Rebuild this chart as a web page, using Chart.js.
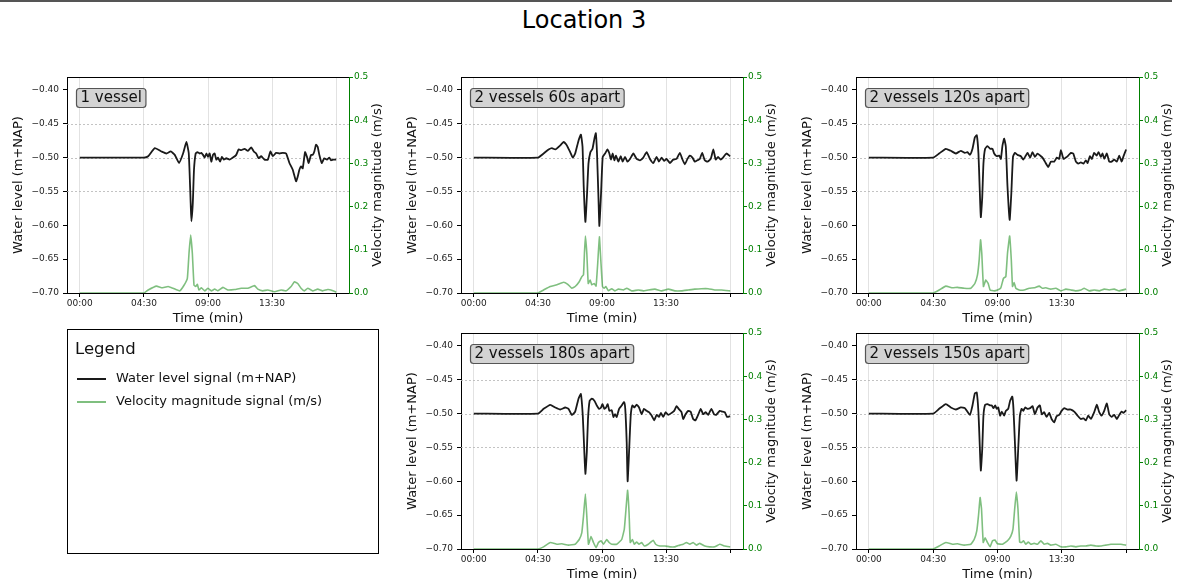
<!DOCTYPE html>
<html>
<head>
<meta charset="utf-8">
<title>Location 3</title>
<script src="https://cdn.jsdelivr.net/npm/chart.js@4.4.1/dist/chart.umd.min.js"></script>
<style>
  body { margin: 0; background: #fff; font-family: "DejaVu Sans", sans-serif; }
  #page { position: relative; width: 1181px; height: 585px; overflow: hidden; }
  #topRule { position: absolute; left: 0; top: 0; width: 1172px; border-top: 2px solid #555; }
  #title { position: absolute; left: 0; top: 6px; width: 1168px; text-align: center; font-size: 24px; color: #000; }
  canvas { position: absolute; }
  #p1 { left: 5px; top: 67px; }
  #p2 { left: 399px; top: 67px; }
  #p3 { left: 794px; top: 67px; }
  #p4 { left: 399px; top: 323px; }
  #p5 { left: 794px; top: 323px; }
  #legendBox { position: absolute; left: 67px; top: 329px; width: 312px; height: 225px; border: 1px solid #000; box-sizing: border-box; }
  #legendTitle { position: absolute; left: 7px; top: 9px; font-size: 16.5px; color: #111; }
  .entry { position: absolute; left: 9px; height: 16px; }
  .entry .swatch { position: absolute; left: 0; top: 7px; width: 29px; height: 0; }
  .entry .txt { position: absolute; left: 39px; top: -1px; font-size: 13px; color: #111; white-space: nowrap; }
</style>
</head>
<body>
<div id="page">
  <div id="topRule"></div>
  <div id="title">Location 3</div>
  <canvas id="p1" width="386" height="266"></canvas>
  <canvas id="p2" width="386" height="266"></canvas>
  <canvas id="p3" width="387" height="266"></canvas>
  <canvas id="p4" width="386" height="266"></canvas>
  <canvas id="p5" width="387" height="266"></canvas>
  <div id="legendBox"><div id="legendTitle">Legend</div></div>
</div>
<script>
// axis ticks and labels
const xTickSeconds = [0, 270, 540, 810, 1080];
const xTickLabels = ['00:00', '04:30', '09:00', '13:30', ''];
const levelTicks = [-0.70, -0.65, -0.60, -0.55, -0.50, -0.45, -0.40];
const velTicks = [0, 0.1, 0.2, 0.3, 0.4, 0.5];
const refLevels = [-0.45, -0.50, -0.55];

const captions = ['1 vessel', '2 vessels 60s apart', '2 vessels 120s apart', '2 vessels 180s apart', '2 vessels 150s apart'];
const legendLabels = ['Water level signal (m+NAP)', 'Velocity magnitude signal (m/s)'];

// ── 1 vessel ──
const p1LevelTime = [
  0, 270, 288, 316, 344, 365, 383, 400, 418, 435,
  449, 459, 467, 470, 476, 481, 488, 495, 505, 512,
  519, 526, 533, 540, 547, 554, 561, 568, 575, 582,
  591, 599, 607, 617, 631, 645, 659, 669, 680, 694,
  708, 722, 733, 743, 753, 764, 778, 792, 803, 813,
  827, 841, 855, 869, 883, 897, 911, 918, 925, 932,
  939, 949, 957, 964, 974, 981, 988, 995, 1002, 1009,
  1019, 1030, 1041, 1051, 1058, 1068, 1080];
const p1Level = [
  -0.500, -0.500, -0.498, -0.486, -0.491, -0.494, -0.491, -0.496, -0.508, -0.494,
  -0.477, -0.494, -0.567, -0.594, -0.567, -0.518, -0.494, -0.492, -0.494, -0.493,
  -0.496, -0.500, -0.494, -0.499, -0.494, -0.506, -0.496, -0.494, -0.503, -0.500,
  -0.506, -0.499, -0.503, -0.501, -0.503, -0.500, -0.496, -0.488, -0.489, -0.487,
  -0.490, -0.485, -0.491, -0.494, -0.501, -0.498, -0.503, -0.503, -0.491, -0.498,
  -0.493, -0.494, -0.493, -0.494, -0.508, -0.518, -0.535, -0.528, -0.518, -0.513,
  -0.516, -0.492, -0.499, -0.508, -0.496, -0.496, -0.491, -0.481, -0.484, -0.496,
  -0.508, -0.501, -0.503, -0.500, -0.504, -0.503, -0.503];
const p1VelTime = [
  0, 270, 288, 323, 344, 372, 393, 421, 439, 453, 460, 467,
  474, 481, 488, 495, 502, 512, 526, 540, 554, 568, 582, 603,
  624, 652, 680, 708, 736, 750, 771, 792, 820, 848, 869, 890,
  904, 918, 932, 946, 960, 981, 1002, 1023, 1044, 1058, 1080];
const p1Vel = [
  0, 0, 0.007, 0.016, 0.012, 0.015, 0.011, 0.005, 0.018, 0.034, 0.092, 0.134,
  0.092, 0.018, 0.015, 0.020, 0.007, 0.012, 0.005, 0.011, 0.005, 0.009, 0.005, 0.013,
  0.007, 0.008, 0.011, 0.011, 0.017, 0.009, 0.005, 0.007, 0.003, 0.007, 0.005, 0.015,
  0.026, 0.022, 0.011, 0.005, 0.011, 0.005, 0.009, 0.005, 0.008, 0.007, 0.002];

// ── 2 vessels 60s apart ──
const p2LevelTime = [
  0, 270, 294, 315, 329, 343, 364, 378, 392, 406,
  417, 427, 441, 451, 458, 463, 470, 477, 483, 491,
  500, 508, 514, 519, 525, 529, 536, 543, 553, 563,
  571, 578, 585, 592, 599, 609, 619, 627, 637, 647,
  658, 672, 686, 700, 714, 728, 742, 756, 770, 780,
  791, 802, 812, 826, 840, 854, 868, 878, 889, 900,
  910, 921, 931, 942, 952, 962, 973, 984, 998, 1009,
  1019, 1029, 1040, 1050, 1064, 1080];
const p2Level = [
  -0.500, -0.500, -0.494, -0.488, -0.486, -0.488, -0.482, -0.477, -0.482, -0.492,
  -0.500, -0.494, -0.475, -0.466, -0.484, -0.543, -0.595, -0.553, -0.509, -0.492,
  -0.487, -0.472, -0.464, -0.494, -0.558, -0.601, -0.553, -0.499, -0.494, -0.488,
  -0.494, -0.503, -0.494, -0.504, -0.497, -0.506, -0.498, -0.506, -0.499, -0.506,
  -0.502, -0.494, -0.502, -0.504, -0.500, -0.492, -0.502, -0.508, -0.499, -0.506,
  -0.500, -0.505, -0.502, -0.508, -0.503, -0.502, -0.493, -0.502, -0.510, -0.502,
  -0.497, -0.500, -0.506, -0.504, -0.502, -0.493, -0.504, -0.506, -0.502, -0.488,
  -0.503, -0.499, -0.503, -0.500, -0.494, -0.498];
const p2VelTime = [
  0, 270, 294, 322, 350, 378, 396, 413, 427, 444,
  455, 462, 466, 470, 476, 482, 490, 497, 507, 515,
  522, 529, 535, 542, 549, 556, 567, 581, 595, 609,
  630, 644, 665, 693, 714, 735, 763, 791, 819, 847,
  875, 903, 931, 959, 987, 1015, 1043, 1080];
const p2Vel = [
  0, 0, 0.007, 0.015, 0.019, 0.025, 0.020, 0.011, 0.015, 0.026,
  0.038, 0.042, 0.092, 0.132, 0.092, 0.022, 0.030, 0.019, 0.022, 0.016,
  0.069, 0.130, 0.076, 0.015, 0.011, 0.015, 0.005, 0.010, 0.005, 0.009,
  0.007, 0.011, 0.005, 0.007, 0.005, 0.007, 0.009, 0.005, 0.009, 0.005,
  0.005, 0.007, 0.009, 0.010, 0.010, 0.007, 0.007, 0.005];

// ── 2 vessels 120s apart ──
const p3LevelTime = [
  0, 270, 295, 323, 344, 365, 386, 403, 414, 424,
  435, 445, 453, 460, 465, 470, 476, 481, 488, 498,
  509, 519, 526, 537, 547, 554, 561, 568, 575, 582,
  591, 598, 605, 613, 624, 638, 648, 659, 666, 677,
  687, 697, 708, 719, 729, 739, 753, 764, 778, 789,
  799, 806, 817, 827, 837, 848, 858, 869, 879, 890,
  901, 911, 918, 928, 936, 946, 956, 964, 974, 981,
  988, 999, 1009, 1019, 1030, 1041, 1051, 1061, 1068, 1080];
const p3Level = [
  -0.500, -0.500, -0.494, -0.487, -0.490, -0.494, -0.490, -0.493, -0.492, -0.496,
  -0.487, -0.470, -0.467, -0.494, -0.543, -0.588, -0.558, -0.509, -0.487, -0.483,
  -0.487, -0.487, -0.494, -0.498, -0.497, -0.502, -0.482, -0.472, -0.484, -0.543,
  -0.592, -0.553, -0.499, -0.493, -0.496, -0.498, -0.503, -0.497, -0.493, -0.500,
  -0.492, -0.499, -0.494, -0.497, -0.500, -0.506, -0.514, -0.506, -0.506, -0.500,
  -0.502, -0.489, -0.502, -0.500, -0.497, -0.493, -0.494, -0.506, -0.509, -0.507,
  -0.509, -0.504, -0.508, -0.498, -0.502, -0.493, -0.497, -0.492, -0.499, -0.494,
  -0.502, -0.494, -0.506, -0.506, -0.503, -0.506, -0.497, -0.506, -0.499, -0.488];
const p3VelTime = [
  0, 270, 295, 323, 351, 372, 400, 428, 445, 456,
  463, 469, 474, 481, 491, 501, 509, 526, 540, 554,
  565, 575, 582, 591, 598, 603, 610, 617, 631, 652,
  673, 694, 715, 729, 743, 764, 785, 806, 827, 848,
  869, 890, 904, 925, 946, 967, 988, 1009, 1030, 1051,
  1080];
const p3Vel = [
  0, 0, 0.007, 0.016, 0.012, 0.013, 0.011, 0.011, 0.022, 0.042,
  0.076, 0.123, 0.092, 0.015, 0.030, 0.022, 0.007, 0.005, 0.007, 0.012,
  0.034, 0.038, 0.092, 0.132, 0.076, 0.015, 0.024, 0.011, 0.007, 0.007,
  0.011, 0.012, 0.016, 0.011, 0.012, 0.009, 0.011, 0.005, 0.009, 0.007,
  0.005, 0.007, 0.011, 0.005, 0.007, 0.005, 0.009, 0.007, 0.009, 0.005,
  0.009];

// ── 2 vessels 180s apart ──
const p4LevelTime = [
  0, 270, 294, 322, 343, 364, 385, 399, 413, 427,
  441, 451, 459, 465, 470, 476, 481, 488, 497, 508,
  518, 528, 536, 542, 550, 557, 564, 571, 581, 588,
  595, 602, 612, 623, 633, 638, 644, 648, 654, 661,
  668, 676, 686, 696, 707, 717, 728, 738, 749, 760,
  770, 780, 788, 798, 808, 819, 833, 844, 854, 863,
  875, 882, 892, 903, 913, 924, 934, 945, 956, 966,
  977, 987, 1001, 1012, 1021, 1036, 1046, 1057, 1067, 1080];
const p4Level = [
  -0.500, -0.500, -0.493, -0.487, -0.491, -0.494, -0.491, -0.493, -0.502, -0.497,
  -0.478, -0.471, -0.503, -0.552, -0.589, -0.557, -0.508, -0.481, -0.478, -0.481,
  -0.488, -0.493, -0.491, -0.486, -0.493, -0.491, -0.486, -0.496, -0.495, -0.505,
  -0.501, -0.505, -0.493, -0.488, -0.483, -0.493, -0.542, -0.600, -0.557, -0.503,
  -0.488, -0.491, -0.487, -0.491, -0.501, -0.493, -0.496, -0.498, -0.503, -0.510,
  -0.502, -0.505, -0.499, -0.505, -0.498, -0.502, -0.499, -0.496, -0.489, -0.493,
  -0.498, -0.508, -0.501, -0.496, -0.497, -0.508, -0.510, -0.502, -0.493, -0.501,
  -0.498, -0.502, -0.493, -0.501, -0.502, -0.496, -0.497, -0.498, -0.505, -0.504];
const p4VelTime = [
  0, 270, 294, 322, 350, 371, 399, 427, 444, 455,
  462, 470, 476, 483, 494, 504, 515, 525, 536, 546,
  560, 570, 581, 602, 623, 634, 641, 648, 654, 659,
  668, 676, 686, 696, 707, 718, 735, 756, 766, 784,
  805, 826, 847, 868, 882, 896, 910, 924, 938, 952,
  973, 994, 1015, 1036, 1057, 1080];
const p4Vel = [
  0, 0, 0.005, 0.015, 0.011, 0.012, 0.009, 0.011, 0.022, 0.038,
  0.076, 0.127, 0.076, 0.011, 0.029, 0.015, 0.003, 0.015, 0.019, 0.011,
  0.022, 0.015, 0.011, 0.011, 0.022, 0.046, 0.092, 0.136, 0.084, 0.015,
  0.022, 0.011, 0.016, 0.011, 0.015, 0.007, 0.011, 0.020, 0.011, 0.007,
  0.007, 0.005, 0.005, 0.009, 0.011, 0.015, 0.011, 0.015, 0.009, 0.013,
  0.007, 0.005, 0.005, 0.011, 0.007, 0.005];

// ── 2 vessels 150s apart ──
const p5LevelTime = [
  0, 270, 295, 323, 344, 365, 386, 403, 424, 435,
  445, 453, 460, 465, 470, 476, 481, 488, 498, 508,
  516, 523, 530, 537, 543, 551, 558, 568, 575, 585,
  593, 602, 607, 613, 620, 627, 634, 641, 648, 656,
  666, 677, 687, 697, 708, 718, 726, 736, 746, 757,
  767, 778, 788, 799, 809, 820, 834, 848, 862, 876,
  890, 901, 911, 921, 932, 946, 957, 967, 977, 988,
  999, 1009, 1019, 1030, 1041, 1051, 1061, 1068, 1080];
const p5Level = [
  -0.500, -0.500, -0.493, -0.486, -0.491, -0.494, -0.491, -0.492, -0.502, -0.488,
  -0.470, -0.469, -0.498, -0.542, -0.584, -0.552, -0.503, -0.487, -0.486, -0.488,
  -0.488, -0.492, -0.488, -0.493, -0.491, -0.503, -0.497, -0.503, -0.496, -0.493,
  -0.481, -0.475, -0.493, -0.542, -0.599, -0.552, -0.503, -0.493, -0.496, -0.491,
  -0.493, -0.492, -0.489, -0.501, -0.491, -0.488, -0.501, -0.498, -0.505, -0.499,
  -0.508, -0.513, -0.504, -0.502, -0.496, -0.492, -0.494, -0.494, -0.497, -0.503,
  -0.508, -0.507, -0.510, -0.503, -0.508, -0.498, -0.487, -0.498, -0.503, -0.496,
  -0.485, -0.501, -0.505, -0.502, -0.508, -0.502, -0.497, -0.499, -0.495];
const p5VelTime = [
  0, 270, 295, 323, 351, 372, 400, 428, 442, 453,
  460, 467, 473, 480, 488, 498, 509, 519, 529, 540,
  561, 582, 596, 605, 612, 619, 626, 633, 641, 649,
  659, 669, 680, 694, 708, 722, 736, 750, 764, 785,
  806, 827, 848, 869, 890, 911, 932, 953, 974, 995,
  1016, 1037, 1058, 1080];
const p5Vel = [
  0, 0, 0.007, 0.015, 0.011, 0.012, 0.009, 0.011, 0.022, 0.042,
  0.076, 0.119, 0.092, 0.015, 0.026, 0.015, 0.005, 0.019, 0.021, 0.012,
  0.011, 0.019, 0.030, 0.046, 0.092, 0.132, 0.092, 0.016, 0.015, 0.019,
  0.011, 0.016, 0.011, 0.013, 0.011, 0.019, 0.011, 0.013, 0.009, 0.011,
  0.005, 0.005, 0.007, 0.005, 0.007, 0.007, 0.009, 0.007, 0.007, 0.009,
  0.011, 0.011, 0.011, 0.009];

const levelColor = '#1a1a1a';
const velColor = 'rgba(0,128,0,0.5)';
const tickGreen = '#008000';
const velocityTitle = 'Velocity magnitude (m/s)';

Chart.defaults.font.family = "'DejaVu Sans', sans-serif";

// dotted reference lines, top spine, right-hand title and the caption box
const panelDecor = {
    id: 'panelDecor',
    beforeDatasetsDraw(chart) {
        const { ctx, chartArea: a, scales } = chart;
        ctx.save();
        ctx.strokeStyle = '#b4b4b4';
        ctx.lineWidth = 0.8;
        ctx.setLineDash([2, 2]);
        refLevels.forEach(v => {
            const y = Math.round(scales.y.getPixelForValue(v)) + 0.5;
            ctx.beginPath();
            ctx.moveTo(a.left, y);
            ctx.lineTo(a.right, y);
            ctx.stroke();
        });
        ctx.restore();
    },
    afterDraw(chart, args, opts) {
        const { ctx, chartArea: a } = chart;
        ctx.save();
        ctx.strokeStyle = '#000';
        ctx.lineWidth = 1;
        ctx.beginPath();
        ctx.moveTo(a.left, a.top + 0.5);
        ctx.lineTo(a.right, a.top + 0.5);
        ctx.stroke();

        ctx.translate(a.right + 29, (a.top + a.bottom) / 2);
        ctx.rotate(-Math.PI / 2);
        ctx.font = "13px 'DejaVu Sans'";
        ctx.fillStyle = '#111';
        ctx.textAlign = 'center';
        ctx.textBaseline = 'middle';
        ctx.fillText(velocityTitle, 0, 0);
        ctx.restore();

        ctx.save();
        ctx.font = "15px 'DejaVu Sans'";
        const w = ctx.measureText(opts.caption).width + 8;
        const x = a.left + 9.5, y = a.top + 11.5, h = 19;
        ctx.beginPath();
        ctx.roundRect(x, y, w, h, 3);
        ctx.fillStyle = '#d3d3d3';
        ctx.fill();
        ctx.strokeStyle = '#555';
        ctx.lineWidth = 1.2;
        ctx.stroke();
        ctx.fillStyle = '#111';
        ctx.textBaseline = 'middle';
        ctx.fillText(opts.caption, x + 4, y + h / 2 + 0.5);
        ctx.restore();
    }
};

const toPoints = (xs, ys) => xs.map((x, i) => ({ x, y: ys[i] }));
const fixTicks = list => scale => { scale.ticks = list.map(v => ({ value: v })); };

function makePanel(id, caption, levelTime, level, velTime, vel) {
    const ctx = document.getElementById(id).getContext('2d');
    return new Chart(ctx, {
        type: 'line',
        data: {
            datasets: [
                {
                    label: legendLabels[1], data: toPoints(velTime, vel), yAxisID: 'y1',
                    borderColor: velColor, borderWidth: 1.6, pointRadius: 0, tension: 0.1
                },
                {
                    label: legendLabels[0], data: toPoints(levelTime, level), yAxisID: 'y',
                    borderColor: levelColor, borderWidth: 1.8, pointRadius: 0, tension: 0.15
                }
            ]
        },
        options: {
            responsive: false,
            animation: false,
            devicePixelRatio: 1,
            layout: { padding: { top: 10, left: 0, right: 0, bottom: 0 } },
            plugins: {
                legend: { display: false },
                tooltip: { enabled: false },
                panelDecor: { caption }
            },
            scales: {
                x: {
                    type: 'linear', min: -54, max: 1134,
                    afterBuildTicks: fixTicks(xTickSeconds),
                    afterFit: s => { s.height = 40; },
                    ticks: {
                        autoSkip: false, maxRotation: 0, padding: 1, color: '#222', font: { size: 9 },
                        callback: (v, i) => xTickLabels[i]
                    },
                    grid: { color: '#e2e2e2', lineWidth: 1, tickLength: 4, tickColor: '#000' },
                    border: { color: '#000' },
                    title: { display: true, text: 'Time (min)', color: '#111', font: { size: 13 }, padding: { top: 0, bottom: 7 } }
                },
                y: {
                    position: 'left', min: -0.70, max: -0.381,
                    afterBuildTicks: fixTicks(levelTicks),
                    afterFit: s => { s.width = 62; },
                    ticks: {
                        autoSkip: false, padding: 4, color: '#222', font: { size: 9 },
                        callback: v => '\u2212' + Math.abs(v).toFixed(2)
                    },
                    grid: { drawOnChartArea: false, tickLength: 4, tickColor: '#000' },
                    border: { color: '#000' },
                    title: { display: true, text: 'Water level (m+NAP)', color: '#111', font: { size: 13 }, padding: { top: 6, bottom: 0 } }
                },
                y1: {
                    position: 'right', min: 0, max: 0.5,
                    afterBuildTicks: fixTicks(velTicks),
                    afterFit: s => { s.width = 42; },
                    ticks: {
                        autoSkip: false, padding: 1, color: tickGreen, font: { size: 9 },
                        callback: v => v.toFixed(1)
                    },
                    grid: { drawOnChartArea: false, tickLength: 4, tickColor: tickGreen },
                    border: { color: tickGreen }
                }
            }
        },
        plugins: [panelDecor]
    });
}

function buildLegend() {
    const box = document.getElementById('legendBox');
    const colors = [levelColor, velColor];
    const tops = [41, 64];
    legendLabels.forEach((label, i) => {
        const row = document.createElement('div');
        row.className = 'entry';
        row.style.top = tops[i] + 'px';
        row.innerHTML = '<div class="swatch" style="border-top:2px solid ' + colors[i] + '"></div>' +
                        '<div class="txt">' + label + '</div>';
        box.appendChild(row);
    });
}

makePanel('p1', captions[0], p1LevelTime, p1Level, p1VelTime, p1Vel);
makePanel('p2', captions[1], p2LevelTime, p2Level, p2VelTime, p2Vel);
makePanel('p3', captions[2], p3LevelTime, p3Level, p3VelTime, p3Vel);
makePanel('p4', captions[3], p4LevelTime, p4Level, p4VelTime, p4Vel);
makePanel('p5', captions[4], p5LevelTime, p5Level, p5VelTime, p5Vel);
buildLegend();
</script>
</body>
</html>
